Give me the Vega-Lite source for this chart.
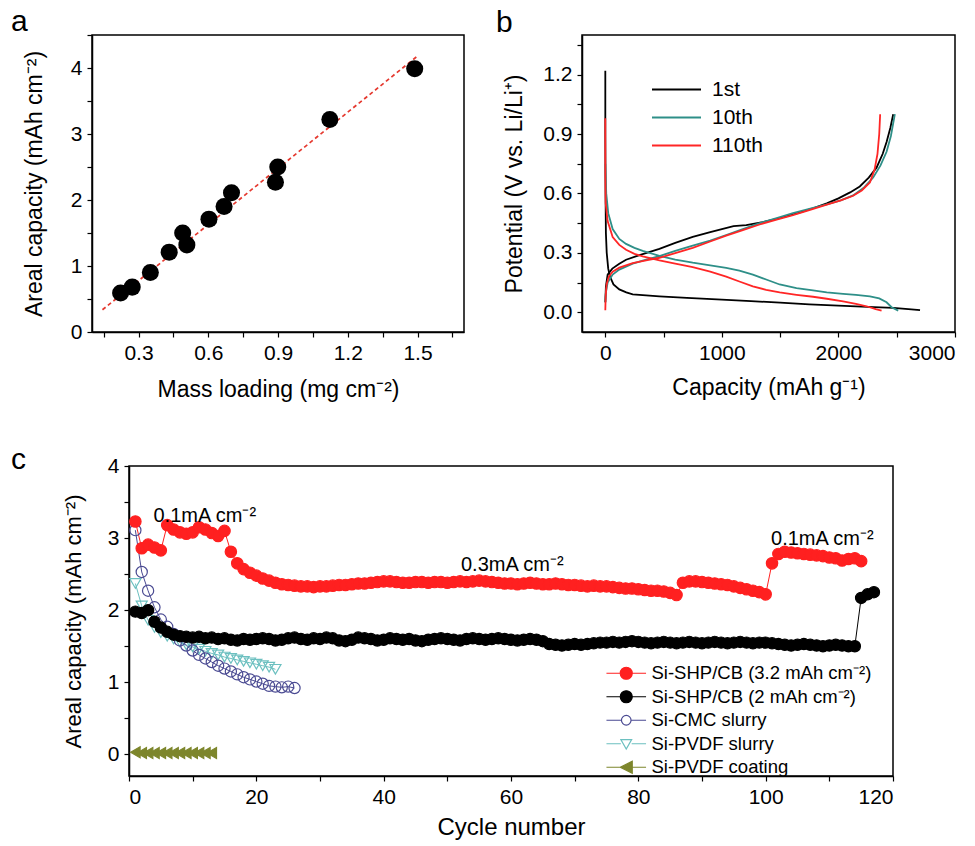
{
  "$schema": "https://vega.github.io/schema/vega-lite/v6.json",
  "background": "white",
  "padding": {"left": 10, "top": 6, "right": 0, "bottom": 0},
  "config": {
    "font": "Liberation Sans",
    "view": {"stroke": "black", "strokeWidth": 1.5},
    "axis": {"grid": false, "domainColor": "black", "domainWidth": 1.5, "tickColor": "black", "tickWidth": 1.2, "labelColor": "black", "labelFont": "Liberation Sans", "labelFontSize": 21, "titleFont": "Liberation Sans", "titleFontSize": 23, "titleFontWeight": "normal", "titleColor": "black", "labelPadding": 5},
    "title": {"fontSize": 30, "fontWeight": "normal", "anchor": "start", "frame": "group", "color": "black", "font": "Liberation Sans", "offset": -3},
    "legend": {"labelFont": "Liberation Sans", "labelColor": "black"}
  },
  "spacing": 43,
  "resolve": {"scale": {"color": "independent", "stroke": "independent", "fill": "independent", "shape": "independent", "size": "independent"}, "legend": {"color": "independent", "stroke": "independent", "fill": "independent", "shape": "independent", "size": "independent"}},
  "vconcat": [
    {
      "spacing": 30,
      "resolve": {"scale": {"color": "independent"}, "legend": {"color": "independent"}},
      "hconcat": [
        {
          "title": {"text": "a", "dx": -81},
          "width": 372,
          "height": 297,
          "layer": [
            {
              "data": {"values": [{"m": 0.145, "cap": 0.337}, {"m": 1.503, "cap": 4.19}]},
              "mark": {"type": "line", "color": "#e5392f", "strokeDash": [4, 3], "strokeWidth": 1.7},
              "encoding": {
                "x": {"field": "m", "type": "quantitative"},
                "y": {"field": "cap", "type": "quantitative"}
              }
            },
            {
              "data": {"values": [
                {"m": 0.223, "cap": 0.59}, {"m": 0.273, "cap": 0.68}, {"m": 0.351, "cap": 0.9}, {"m": 0.432, "cap": 1.21},
                {"m": 0.49, "cap": 1.5}, {"m": 0.508, "cap": 1.32}, {"m": 0.603, "cap": 1.71}, {"m": 0.668, "cap": 1.9},
                {"m": 0.7, "cap": 2.11}, {"m": 0.889, "cap": 2.27}, {"m": 0.899, "cap": 2.5}, {"m": 1.123, "cap": 3.22},
                {"m": 1.488, "cap": 3.99}
              ]},
              "mark": {"type": "circle", "size": 290, "color": "black", "opacity": 1},
              "encoding": {
                "x": {"field": "m", "type": "quantitative"},
                "y": {"field": "cap", "type": "quantitative"}
              }
            }
          ],
          "encoding": {
            "x": {"field": "m", "type": "quantitative", "scale": {"domain": [0.1, 1.7], "nice": false, "zero": false},
              "axis": {"title": "Mass loading (mg cm⁻²)", "values": [0.15, 0.3, 0.45, 0.6, 0.75, 0.9, 1.05, 1.2, 1.35, 1.5, 1.65],
                "labelExpr": "round(datum.value*100) % 30 == 0 ? format(datum.value, '.1f') : ''", "tickSize": 5, "titlePadding": 15}},
            "y": {"field": "cap", "type": "quantitative", "scale": {"domain": [0, 4.5], "nice": false},
              "axis": {"title": "Areal capacity (mAh cm⁻²)", "values": [0, 0.5, 1, 1.5, 2, 2.5, 3, 3.5, 4, 4.5],
                "labelExpr": "datum.value % 1 == 0 ? format(datum.value, 'd') : ''", "tickSize": 5, "titlePadding": 24}}
          }
        },
        {
          "title": {"text": "b", "dx": -86},
          "width": 373,
          "height": 297,
          "data": {"values": [
            {"k": "1st", "p": "d", "i": 0, "x": 0, "y": 1.22}, {"k": "1st", "p": "d", "i": 1, "x": 0, "y": 0.9}, {"k": "1st", "p": "d", "i": 2, "x": 2, "y": 0.6},
            {"k": "1st", "p": "d", "i": 3, "x": 5, "y": 0.4}, {"k": "1st", "p": "d", "i": 4, "x": 12, "y": 0.3}, {"k": "1st", "p": "d", "i": 5, "x": 25, "y": 0.22},
            {"k": "1st", "p": "d", "i": 6, "x": 40, "y": 0.18}, {"k": "1st", "p": "d", "i": 7, "x": 70, "y": 0.14}, {"k": "1st", "p": "d", "i": 8, "x": 120, "y": 0.115},
            {"k": "1st", "p": "d", "i": 9, "x": 180, "y": 0.1}, {"k": "1st", "p": "d", "i": 10, "x": 235, "y": 0.09}, {"k": "1st", "p": "d", "i": 11, "x": 350, "y": 0.085},
            {"k": "1st", "p": "d", "i": 12, "x": 464, "y": 0.08}, {"k": "1st", "p": "d", "i": 13, "x": 700, "y": 0.072}, {"k": "1st", "p": "d", "i": 14, "x": 1000, "y": 0.064},
            {"k": "1st", "p": "d", "i": 15, "x": 1250, "y": 0.056}, {"k": "1st", "p": "d", "i": 16, "x": 1500, "y": 0.048}, {"k": "1st", "p": "d", "i": 17, "x": 1750, "y": 0.04},
            {"k": "1st", "p": "d", "i": 18, "x": 2000, "y": 0.033}, {"k": "1st", "p": "d", "i": 19, "x": 2250, "y": 0.027}, {"k": "1st", "p": "d", "i": 20, "x": 2470, "y": 0.022},
            {"k": "1st", "p": "d", "i": 21, "x": 2600, "y": 0.016}, {"k": "1st", "p": "d", "i": 22, "x": 2700, "y": 0.01},
            {"k": "1st", "p": "c", "i": 0, "x": 0, "y": 0.05}, {"k": "1st", "p": "c", "i": 1, "x": 5, "y": 0.13}, {"k": "1st", "p": "c", "i": 2, "x": 20, "y": 0.19},
            {"k": "1st", "p": "c", "i": 3, "x": 60, "y": 0.22}, {"k": "1st", "p": "c", "i": 4, "x": 120, "y": 0.245}, {"k": "1st", "p": "c", "i": 5, "x": 178, "y": 0.265},
            {"k": "1st", "p": "c", "i": 6, "x": 300, "y": 0.29}, {"k": "1st", "p": "c", "i": 7, "x": 464, "y": 0.32}, {"k": "1st", "p": "c", "i": 8, "x": 600, "y": 0.35},
            {"k": "1st", "p": "c", "i": 9, "x": 750, "y": 0.38}, {"k": "1st", "p": "c", "i": 10, "x": 900, "y": 0.405}, {"k": "1st", "p": "c", "i": 11, "x": 1000, "y": 0.42},
            {"k": "1st", "p": "c", "i": 12, "x": 1100, "y": 0.435}, {"k": "1st", "p": "c", "i": 13, "x": 1209, "y": 0.44}, {"k": "1st", "p": "c", "i": 14, "x": 1350, "y": 0.455},
            {"k": "1st", "p": "c", "i": 15, "x": 1496, "y": 0.475}, {"k": "1st", "p": "c", "i": 16, "x": 1650, "y": 0.5}, {"k": "1st", "p": "c", "i": 17, "x": 1782, "y": 0.525},
            {"k": "1st", "p": "c", "i": 18, "x": 1900, "y": 0.55}, {"k": "1st", "p": "c", "i": 19, "x": 2000, "y": 0.575}, {"k": "1st", "p": "c", "i": 20, "x": 2100, "y": 0.605},
            {"k": "1st", "p": "c", "i": 21, "x": 2183, "y": 0.635}, {"k": "1st", "p": "c", "i": 22, "x": 2260, "y": 0.68}, {"k": "1st", "p": "c", "i": 23, "x": 2327, "y": 0.73},
            {"k": "1st", "p": "c", "i": 24, "x": 2380, "y": 0.8}, {"k": "1st", "p": "c", "i": 25, "x": 2413, "y": 0.86}, {"k": "1st", "p": "c", "i": 26, "x": 2445, "y": 0.93},
            {"k": "1st", "p": "c", "i": 27, "x": 2470, "y": 1.0},
            {"k": "10th", "p": "d", "i": 0, "x": 0, "y": 0.75}, {"k": "10th", "p": "d", "i": 1, "x": 8, "y": 0.6}, {"k": "10th", "p": "d", "i": 2, "x": 25, "y": 0.5},
            {"k": "10th", "p": "d", "i": 3, "x": 63, "y": 0.42}, {"k": "10th", "p": "d", "i": 4, "x": 120, "y": 0.37}, {"k": "10th", "p": "d", "i": 5, "x": 178, "y": 0.345},
            {"k": "10th", "p": "d", "i": 6, "x": 250, "y": 0.325}, {"k": "10th", "p": "d", "i": 7, "x": 321, "y": 0.31}, {"k": "10th", "p": "d", "i": 8, "x": 464, "y": 0.285},
            {"k": "10th", "p": "d", "i": 9, "x": 600, "y": 0.265}, {"k": "10th", "p": "d", "i": 10, "x": 750, "y": 0.25}, {"k": "10th", "p": "d", "i": 11, "x": 900, "y": 0.237},
            {"k": "10th", "p": "d", "i": 12, "x": 1037, "y": 0.224}, {"k": "10th", "p": "d", "i": 13, "x": 1150, "y": 0.21}, {"k": "10th", "p": "d", "i": 14, "x": 1266, "y": 0.19},
            {"k": "10th", "p": "d", "i": 15, "x": 1380, "y": 0.165}, {"k": "10th", "p": "d", "i": 16, "x": 1496, "y": 0.14}, {"k": "10th", "p": "d", "i": 17, "x": 1640, "y": 0.122},
            {"k": "10th", "p": "d", "i": 18, "x": 1782, "y": 0.11}, {"k": "10th", "p": "d", "i": 19, "x": 1900, "y": 0.1}, {"k": "10th", "p": "d", "i": 20, "x": 2040, "y": 0.093},
            {"k": "10th", "p": "d", "i": 21, "x": 2150, "y": 0.087}, {"k": "10th", "p": "d", "i": 22, "x": 2270, "y": 0.08}, {"k": "10th", "p": "d", "i": 23, "x": 2350, "y": 0.07},
            {"k": "10th", "p": "d", "i": 24, "x": 2413, "y": 0.05}, {"k": "10th", "p": "d", "i": 25, "x": 2456, "y": 0.025}, {"k": "10th", "p": "d", "i": 26, "x": 2513, "y": 0.008},
            {"k": "10th", "p": "c", "i": 0, "x": 0, "y": 0.05}, {"k": "10th", "p": "c", "i": 1, "x": 5, "y": 0.1}, {"k": "10th", "p": "c", "i": 2, "x": 20, "y": 0.15},
            {"k": "10th", "p": "c", "i": 3, "x": 63, "y": 0.19}, {"k": "10th", "p": "c", "i": 4, "x": 120, "y": 0.215}, {"k": "10th", "p": "c", "i": 5, "x": 235, "y": 0.245},
            {"k": "10th", "p": "c", "i": 6, "x": 350, "y": 0.265}, {"k": "10th", "p": "c", "i": 7, "x": 464, "y": 0.283}, {"k": "10th", "p": "c", "i": 8, "x": 600, "y": 0.31},
            {"k": "10th", "p": "c", "i": 9, "x": 750, "y": 0.336}, {"k": "10th", "p": "c", "i": 10, "x": 900, "y": 0.362}, {"k": "10th", "p": "c", "i": 11, "x": 1037, "y": 0.39},
            {"k": "10th", "p": "c", "i": 12, "x": 1180, "y": 0.42}, {"k": "10th", "p": "c", "i": 13, "x": 1324, "y": 0.45}, {"k": "10th", "p": "c", "i": 14, "x": 1470, "y": 0.475},
            {"k": "10th", "p": "c", "i": 15, "x": 1610, "y": 0.5}, {"k": "10th", "p": "c", "i": 16, "x": 1750, "y": 0.522}, {"k": "10th", "p": "c", "i": 17, "x": 1900, "y": 0.545},
            {"k": "10th", "p": "c", "i": 18, "x": 2020, "y": 0.565}, {"k": "10th", "p": "c", "i": 19, "x": 2126, "y": 0.59}, {"k": "10th", "p": "c", "i": 20, "x": 2220, "y": 0.63},
            {"k": "10th", "p": "c", "i": 21, "x": 2298, "y": 0.68}, {"k": "10th", "p": "c", "i": 22, "x": 2360, "y": 0.74}, {"k": "10th", "p": "c", "i": 23, "x": 2413, "y": 0.81},
            {"k": "10th", "p": "c", "i": 24, "x": 2450, "y": 0.89}, {"k": "10th", "p": "c", "i": 25, "x": 2484, "y": 1.0},
            {"k": "110th", "p": "d", "i": 0, "x": 0, "y": 0.98}, {"k": "110th", "p": "d", "i": 1, "x": 0, "y": 0.7}, {"k": "110th", "p": "d", "i": 2, "x": 3, "y": 0.55},
            {"k": "110th", "p": "d", "i": 3, "x": 20, "y": 0.46}, {"k": "110th", "p": "d", "i": 4, "x": 63, "y": 0.38}, {"k": "110th", "p": "d", "i": 5, "x": 120, "y": 0.34},
            {"k": "110th", "p": "d", "i": 6, "x": 178, "y": 0.315}, {"k": "110th", "p": "d", "i": 7, "x": 250, "y": 0.295}, {"k": "110th", "p": "d", "i": 8, "x": 321, "y": 0.282},
            {"k": "110th", "p": "d", "i": 9, "x": 464, "y": 0.262}, {"k": "110th", "p": "d", "i": 10, "x": 600, "y": 0.245}, {"k": "110th", "p": "d", "i": 11, "x": 750, "y": 0.228},
            {"k": "110th", "p": "d", "i": 12, "x": 900, "y": 0.205}, {"k": "110th", "p": "d", "i": 13, "x": 1037, "y": 0.18}, {"k": "110th", "p": "d", "i": 14, "x": 1150, "y": 0.155},
            {"k": "110th", "p": "d", "i": 15, "x": 1266, "y": 0.13}, {"k": "110th", "p": "d", "i": 16, "x": 1380, "y": 0.113}, {"k": "110th", "p": "d", "i": 17, "x": 1496, "y": 0.1},
            {"k": "110th", "p": "d", "i": 18, "x": 1640, "y": 0.088}, {"k": "110th", "p": "d", "i": 19, "x": 1782, "y": 0.078}, {"k": "110th", "p": "d", "i": 20, "x": 1900, "y": 0.068},
            {"k": "110th", "p": "d", "i": 21, "x": 2040, "y": 0.055}, {"k": "110th", "p": "d", "i": 22, "x": 2150, "y": 0.042}, {"k": "110th", "p": "d", "i": 23, "x": 2241, "y": 0.03},
            {"k": "110th", "p": "d", "i": 24, "x": 2320, "y": 0.015}, {"k": "110th", "p": "d", "i": 25, "x": 2370, "y": 0.008},
            {"k": "110th", "p": "c", "i": 0, "x": 0, "y": 0.01}, {"k": "110th", "p": "c", "i": 1, "x": 3, "y": 0.08}, {"k": "110th", "p": "c", "i": 2, "x": 11, "y": 0.14},
            {"k": "110th", "p": "c", "i": 3, "x": 30, "y": 0.18}, {"k": "110th", "p": "c", "i": 4, "x": 63, "y": 0.205}, {"k": "110th", "p": "c", "i": 5, "x": 120, "y": 0.225},
            {"k": "110th", "p": "c", "i": 6, "x": 235, "y": 0.248}, {"k": "110th", "p": "c", "i": 7, "x": 350, "y": 0.262}, {"k": "110th", "p": "c", "i": 8, "x": 464, "y": 0.275},
            {"k": "110th", "p": "c", "i": 9, "x": 600, "y": 0.298}, {"k": "110th", "p": "c", "i": 10, "x": 750, "y": 0.325}, {"k": "110th", "p": "c", "i": 11, "x": 900, "y": 0.357},
            {"k": "110th", "p": "c", "i": 12, "x": 1037, "y": 0.387}, {"k": "110th", "p": "c", "i": 13, "x": 1180, "y": 0.415}, {"k": "110th", "p": "c", "i": 14, "x": 1324, "y": 0.443},
            {"k": "110th", "p": "c", "i": 15, "x": 1470, "y": 0.468}, {"k": "110th", "p": "c", "i": 16, "x": 1610, "y": 0.49}, {"k": "110th", "p": "c", "i": 17, "x": 1750, "y": 0.515},
            {"k": "110th", "p": "c", "i": 18, "x": 1900, "y": 0.543}, {"k": "110th", "p": "c", "i": 19, "x": 2020, "y": 0.565}, {"k": "110th", "p": "c", "i": 20, "x": 2126, "y": 0.588},
            {"k": "110th", "p": "c", "i": 21, "x": 2200, "y": 0.615}, {"k": "110th", "p": "c", "i": 22, "x": 2270, "y": 0.655}, {"k": "110th", "p": "c", "i": 23, "x": 2310, "y": 0.72},
            {"k": "110th", "p": "c", "i": 24, "x": 2335, "y": 0.8}, {"k": "110th", "p": "c", "i": 25, "x": 2350, "y": 0.9}, {"k": "110th", "p": "c", "i": 26, "x": 2358, "y": 1.0}
          ]},
          "mark": {"type": "line", "strokeWidth": 1.8},
          "encoding": {
            "x": {"field": "x", "type": "quantitative", "scale": {"domain": [-200, 3000], "nice": false, "zero": false},
              "axis": {"title": "Capacity (mAh g⁻¹)", "values": [0, 500, 1000, 1500, 2000, 2500, 3000],
                "labelExpr": "datum.value % 1000 == 0 ? format(datum.value, 'd') : ''", "tickSize": 5, "titlePadding": 13}},
            "y": {"field": "y", "type": "quantitative", "scale": {"domain": [-0.1, 1.4], "nice": false, "zero": false},
              "axis": {"title": "Potential (V vs. Li/Li⁺)", "values": [0, 0.15, 0.3, 0.45, 0.6, 0.75, 0.9, 1.05, 1.2, 1.35],
                "labelExpr": "round(datum.value*100) % 30 == 0 ? format(datum.value, '.1f') : ''", "tickSize": 5, "titlePadding": 16}},
            "color": {"field": "k", "type": "nominal", "scale": {"domain": ["1st", "10th", "110th"], "range": ["#000000", "#2e8f88", "#ff2626"]},
              "legend": {"title": null, "orient": "none", "legendX": 84, "legendY": 44, "symbolType": "M-4.9,0H4.9", "symbolSize": 100, "symbolStrokeWidth": 2,
                "labelFontSize": 21, "labelOffset": 25, "rowPadding": 6, "padding": 0}},
            "detail": {"field": "p"},
            "order": {"field": "i", "type": "quantitative"}
          }
        }
      ]
    },
    {
      "spacing": 36,
      "bounds": "flush",
      "resolve": {"scale": {"stroke": "independent", "fill": "independent", "shape": "independent", "size": "independent"}, "legend": {"stroke": "independent", "fill": "independent", "shape": "independent", "size": "independent"}},
      "hconcat": [
        {
          "title": {"text": "c", "dx": -81, "dy": 6},
          "width": 1,
          "height": 310,
          "view": {"stroke": null},
          "data": {"values": [{"k": 0}]},
          "mark": {"type": "point", "opacity": 0},
          "encoding": {}
        },
        {
          "width": 764,
          "height": 310,
          "resolve": {"scale": {"stroke": "independent", "fill": "independent", "shape": "independent", "size": "independent"}, "legend": {"stroke": "independent", "fill": "independent", "shape": "independent", "size": "independent"}},
          "layer": [
            {
              "data": {"name": "cyc"},
              "mark": {"type": "line", "strokeWidth": 1},
              "encoding": {
                "x": {"field": "c", "type": "quantitative"},
                "y": {"field": "v", "type": "quantitative"},
                "stroke": {"field": "s", "type": "nominal", "legend": null,
                  "scale": {"domain": ["Si-SHP/CB (3.2 mAh cm⁻²)", "Si-SHP/CB (2 mAh cm⁻²)", "Si-CMC slurry", "Si-PVDF slurry", "Si-PVDF coating"],
                    "range": ["#ff2020", "#000000", "#4a4a92", "#6cc0c0", "#7d862c"]}},
                "order": {"field": "c", "type": "quantitative"}
              }
            },
            {
              "data": {"name": "cyc"},
              "mark": {"type": "point", "strokeWidth": 1.2, "opacity": 1},
              "encoding": {
                "x": {"field": "c", "type": "quantitative"},
                "y": {"field": "v", "type": "quantitative"},
                "stroke": {"field": "s", "type": "nominal", "legend": null,
                  "scale": {"domain": ["Si-SHP/CB (3.2 mAh cm⁻²)", "Si-SHP/CB (2 mAh cm⁻²)", "Si-CMC slurry", "Si-PVDF slurry", "Si-PVDF coating"],
                    "range": ["#ff2020", "#000000", "#4a4a92", "#6cc0c0", "#7d862c"]}},
                "fill": {"field": "s", "type": "nominal", "legend": null,
                  "scale": {"domain": ["Si-SHP/CB (3.2 mAh cm⁻²)", "Si-SHP/CB (2 mAh cm⁻²)", "Si-CMC slurry", "Si-PVDF slurry", "Si-PVDF coating"],
                    "range": ["#ff2020", "#000000", "transparent", "transparent", "#7d862c"]}},
                "shape": {"field": "s", "type": "nominal", "legend": null,
                  "scale": {"domain": ["Si-SHP/CB (3.2 mAh cm⁻²)", "Si-SHP/CB (2 mAh cm⁻²)", "Si-CMC slurry", "Si-PVDF slurry", "Si-PVDF coating"],
                    "range": ["circle", "circle", "circle", "triangle-down", "triangle-left"]}},
                "size": {"field": "s", "type": "nominal", "legend": null,
                  "scale": {"domain": ["Si-SHP/CB (3.2 mAh cm⁻²)", "Si-SHP/CB (2 mAh cm⁻²)", "Si-CMC slurry", "Si-PVDF slurry", "Si-PVDF coating"],
                    "range": [130, 120, 80, 90, 80]}}
              }
            },
            {
              "data": {"name": "cyc"},
              "transform": [{"filter": "datum.c == 1"}],
              "mark": {"type": "point", "opacity": 0, "strokeWidth": 1.2},
              "encoding": {
                "x": {"field": "c", "type": "quantitative"},
                "y": {"field": "v", "type": "quantitative"},
                "stroke": {"field": "s", "type": "nominal",
                  "scale": {"domain": ["Si-SHP/CB (3.2 mAh cm⁻²)", "Si-SHP/CB (2 mAh cm⁻²)", "Si-CMC slurry", "Si-PVDF slurry", "Si-PVDF coating"],
                    "range": ["#ff2020", "#000000", "#4a4a92", "#6cc0c0", "#7d862c"]},
                  "legend": {"title": null, "orient": "none", "legendX": 488, "legendY": 198, "symbolSize": 144, "symbolStrokeWidth": 1.2,
                    "labelFontSize": 18.5, "labelOffset": 16, "rowPadding": 4.5, "padding": 0, "symbolOpacity": 1, "labelLimit": 0}},
                "fill": {"field": "s", "type": "nominal",
                  "scale": {"domain": ["Si-SHP/CB (3.2 mAh cm⁻²)", "Si-SHP/CB (2 mAh cm⁻²)", "Si-CMC slurry", "Si-PVDF slurry", "Si-PVDF coating"],
                    "range": ["#ff2020", "#000000", "transparent", "transparent", "#7d862c"]},
                  "legend": {"title": null, "orient": "none", "legendX": 488, "legendY": 198, "symbolSize": 144, "symbolStrokeWidth": 1.2,
                    "labelFontSize": 18.5, "labelOffset": 16, "rowPadding": 4.5, "padding": 0, "symbolOpacity": 1, "labelLimit": 0}},
                "shape": {"field": "s", "type": "nominal",
                  "scale": {"domain": ["Si-SHP/CB (3.2 mAh cm⁻²)", "Si-SHP/CB (2 mAh cm⁻²)", "Si-CMC slurry", "Si-PVDF slurry", "Si-PVDF coating"],
                    "range": ["M-3.3,0H-1M1,0H3.3M-1,0A1,1,0,1,1,1,0A1,1,0,1,1,-1,0Z", "M-3.3,0H-1M1,0H3.3M-1,0A1,1,0,1,1,1,0A1,1,0,1,1,-1,0Z", "M-3.3,0H-0.8M0.8,0H3.3M-0.8,0A0.8,0.8,0,1,1,0.8,0A0.8,0.8,0,1,1,-0.8,0Z", "M-3.3,0H-0.9M0.9,0H3.3M-0.9,-0.7L0.9,-0.7L0,0.9Z", "M-3.3,0H-1M1,0H3.3M-1,0L1,-1L1,1Z"]},
                  "legend": {"title": null, "orient": "none", "legendX": 488, "legendY": 198, "symbolSize": 144, "symbolStrokeWidth": 1.2,
                    "labelFontSize": 18.5, "labelOffset": 16, "rowPadding": 4.5, "padding": 0, "symbolOpacity": 1, "labelLimit": 0}}
              }
            },
            {
              "data": {"values": [
                {"c": 11.9, "v": 3.31, "t": "0.1mA cm⁻²"},
                {"c": 60.2, "v": 2.62, "t": "0.3mA cm⁻²"},
                {"c": 108.9, "v": 2.99, "t": "0.1mA cm⁻²"}
              ]},
              "mark": {"type": "text", "fontSize": 20, "font": "Liberation Sans", "color": "black", "align": "center", "baseline": "middle"},
              "encoding": {
                "x": {"field": "c", "type": "quantitative"},
                "y": {"field": "v", "type": "quantitative"},
                "text": {"field": "t"}
              }
            }
          ],
          "encoding": {
            "x": {"field": "c", "type": "quantitative", "scale": {"domain": [0, 120], "nice": false},
              "axis": {"title": "Cycle number", "values": [0, 10, 20, 30, 40, 50, 60, 70, 80, 90, 100, 110, 120],
                "labelExpr": "datum.value % 20 == 0 ? format(datum.value, 'd') : ''", "tickSize": 5, "titlePadding": 8, "titleFontSize": 24}},
            "y": {"field": "v", "type": "quantitative", "scale": {"domain": [-0.3, 4], "nice": false, "zero": false},
              "axis": {"title": "Areal capacity (mAh cm⁻²)", "values": [0, 0.5, 1, 1.5, 2, 2.5, 3, 3.5, 4],
                "labelExpr": "datum.value % 1 == 0 ? format(datum.value, 'd') : ''", "tickSize": 5, "titlePadding": 22, "titleFontSize": 22}}
          }
        }
      ]
    }
  ],
  "datasets": {
    "cyc": [
      {"s": "Si-PVDF coating", "c": 1, "v": 0.03}, {"s": "Si-PVDF coating", "c": 2, "v": 0.02}, {"s": "Si-PVDF coating", "c": 3, "v": 0.02},
      {"s": "Si-PVDF coating", "c": 4, "v": 0.02}, {"s": "Si-PVDF coating", "c": 5, "v": 0.02}, {"s": "Si-PVDF coating", "c": 6, "v": 0.02},
      {"s": "Si-PVDF coating", "c": 7, "v": 0.02}, {"s": "Si-PVDF coating", "c": 8, "v": 0.02}, {"s": "Si-PVDF coating", "c": 9, "v": 0.02},
      {"s": "Si-PVDF coating", "c": 10, "v": 0.02}, {"s": "Si-PVDF coating", "c": 11, "v": 0.02}, {"s": "Si-PVDF coating", "c": 12, "v": 0.02},
      {"s": "Si-PVDF coating", "c": 13, "v": 0.02},
      {"s": "Si-PVDF slurry", "c": 1, "v": 2.37}, {"s": "Si-PVDF slurry", "c": 2, "v": 2.06}, {"s": "Si-PVDF slurry", "c": 3, "v": 1.86},
      {"s": "Si-PVDF slurry", "c": 4, "v": 1.76}, {"s": "Si-PVDF slurry", "c": 5, "v": 1.69}, {"s": "Si-PVDF slurry", "c": 6, "v": 1.64},
      {"s": "Si-PVDF slurry", "c": 7, "v": 1.6}, {"s": "Si-PVDF slurry", "c": 8, "v": 1.56}, {"s": "Si-PVDF slurry", "c": 9, "v": 1.52},
      {"s": "Si-PVDF slurry", "c": 10, "v": 1.49}, {"s": "Si-PVDF slurry", "c": 11, "v": 1.46}, {"s": "Si-PVDF slurry", "c": 12, "v": 1.43},
      {"s": "Si-PVDF slurry", "c": 13, "v": 1.4}, {"s": "Si-PVDF slurry", "c": 14, "v": 1.38}, {"s": "Si-PVDF slurry", "c": 15, "v": 1.35},
      {"s": "Si-PVDF slurry", "c": 16, "v": 1.33}, {"s": "Si-PVDF slurry", "c": 17, "v": 1.31}, {"s": "Si-PVDF slurry", "c": 18, "v": 1.29},
      {"s": "Si-PVDF slurry", "c": 19, "v": 1.27}, {"s": "Si-PVDF slurry", "c": 20, "v": 1.25}, {"s": "Si-PVDF slurry", "c": 21, "v": 1.23},
      {"s": "Si-PVDF slurry", "c": 22, "v": 1.21}, {"s": "Si-PVDF slurry", "c": 23, "v": 1.18},
      {"s": "Si-CMC slurry", "c": 1, "v": 3.11}, {"s": "Si-CMC slurry", "c": 2, "v": 2.53}, {"s": "Si-CMC slurry", "c": 3, "v": 2.27},
      {"s": "Si-CMC slurry", "c": 4, "v": 2.04}, {"s": "Si-CMC slurry", "c": 5, "v": 1.87}, {"s": "Si-CMC slurry", "c": 6, "v": 1.77},
      {"s": "Si-CMC slurry", "c": 7, "v": 1.67}, {"s": "Si-CMC slurry", "c": 8, "v": 1.58}, {"s": "Si-CMC slurry", "c": 9, "v": 1.51},
      {"s": "Si-CMC slurry", "c": 10, "v": 1.44}, {"s": "Si-CMC slurry", "c": 11, "v": 1.38}, {"s": "Si-CMC slurry", "c": 12, "v": 1.33},
      {"s": "Si-CMC slurry", "c": 13, "v": 1.28}, {"s": "Si-CMC slurry", "c": 14, "v": 1.23}, {"s": "Si-CMC slurry", "c": 15, "v": 1.19},
      {"s": "Si-CMC slurry", "c": 16, "v": 1.15}, {"s": "Si-CMC slurry", "c": 17, "v": 1.11}, {"s": "Si-CMC slurry", "c": 18, "v": 1.07},
      {"s": "Si-CMC slurry", "c": 19, "v": 1.04}, {"s": "Si-CMC slurry", "c": 20, "v": 1.01}, {"s": "Si-CMC slurry", "c": 21, "v": 0.98},
      {"s": "Si-CMC slurry", "c": 22, "v": 0.95}, {"s": "Si-CMC slurry", "c": 23, "v": 0.94}, {"s": "Si-CMC slurry", "c": 24, "v": 0.93},
      {"s": "Si-CMC slurry", "c": 25, "v": 0.94}, {"s": "Si-CMC slurry", "c": 26, "v": 0.92},
      {"s": "Si-SHP/CB (2 mAh cm⁻²)", "c": 1, "v": 1.98}, {"s": "Si-SHP/CB (2 mAh cm⁻²)", "c": 2, "v": 1.96}, {"s": "Si-SHP/CB (2 mAh cm⁻²)", "c": 3, "v": 2.0},
      {"s": "Si-SHP/CB (2 mAh cm⁻²)", "c": 4, "v": 1.84}, {"s": "Si-SHP/CB (2 mAh cm⁻²)", "c": 5, "v": 1.76}, {"s": "Si-SHP/CB (2 mAh cm⁻²)", "c": 6, "v": 1.7},
      {"s": "Si-SHP/CB (2 mAh cm⁻²)", "c": 7, "v": 1.66}, {"s": "Si-SHP/CB (2 mAh cm⁻²)", "c": 8, "v": 1.64}, {"s": "Si-SHP/CB (2 mAh cm⁻²)", "c": 9, "v": 1.63},
      {"s": "Si-SHP/CB (2 mAh cm⁻²)", "c": 10, "v": 1.62}, {"s": "Si-SHP/CB (2 mAh cm⁻²)", "c": 11, "v": 1.63}, {"s": "Si-SHP/CB (2 mAh cm⁻²)", "c": 12, "v": 1.61},
      {"s": "Si-SHP/CB (2 mAh cm⁻²)", "c": 13, "v": 1.62}, {"s": "Si-SHP/CB (2 mAh cm⁻²)", "c": 14, "v": 1.6}, {"s": "Si-SHP/CB (2 mAh cm⁻²)", "c": 15, "v": 1.61},
      {"s": "Si-SHP/CB (2 mAh cm⁻²)", "c": 16, "v": 1.59}, {"s": "Si-SHP/CB (2 mAh cm⁻²)", "c": 17, "v": 1.58}, {"s": "Si-SHP/CB (2 mAh cm⁻²)", "c": 18, "v": 1.6},
      {"s": "Si-SHP/CB (2 mAh cm⁻²)", "c": 19, "v": 1.59}, {"s": "Si-SHP/CB (2 mAh cm⁻²)", "c": 20, "v": 1.6}, {"s": "Si-SHP/CB (2 mAh cm⁻²)", "c": 21, "v": 1.61},
      {"s": "Si-SHP/CB (2 mAh cm⁻²)", "c": 22, "v": 1.6}, {"s": "Si-SHP/CB (2 mAh cm⁻²)", "c": 23, "v": 1.58}, {"s": "Si-SHP/CB (2 mAh cm⁻²)", "c": 24, "v": 1.59},
      {"s": "Si-SHP/CB (2 mAh cm⁻²)", "c": 25, "v": 1.61}, {"s": "Si-SHP/CB (2 mAh cm⁻²)", "c": 26, "v": 1.62}, {"s": "Si-SHP/CB (2 mAh cm⁻²)", "c": 27, "v": 1.6},
      {"s": "Si-SHP/CB (2 mAh cm⁻²)", "c": 28, "v": 1.59}, {"s": "Si-SHP/CB (2 mAh cm⁻²)", "c": 29, "v": 1.61}, {"s": "Si-SHP/CB (2 mAh cm⁻²)", "c": 30, "v": 1.6},
      {"s": "Si-SHP/CB (2 mAh cm⁻²)", "c": 31, "v": 1.62}, {"s": "Si-SHP/CB (2 mAh cm⁻²)", "c": 32, "v": 1.61}, {"s": "Si-SHP/CB (2 mAh cm⁻²)", "c": 33, "v": 1.58},
      {"s": "Si-SHP/CB (2 mAh cm⁻²)", "c": 34, "v": 1.57}, {"s": "Si-SHP/CB (2 mAh cm⁻²)", "c": 35, "v": 1.59}, {"s": "Si-SHP/CB (2 mAh cm⁻²)", "c": 36, "v": 1.62},
      {"s": "Si-SHP/CB (2 mAh cm⁻²)", "c": 37, "v": 1.61}, {"s": "Si-SHP/CB (2 mAh cm⁻²)", "c": 38, "v": 1.6}, {"s": "Si-SHP/CB (2 mAh cm⁻²)", "c": 39, "v": 1.58},
      {"s": "Si-SHP/CB (2 mAh cm⁻²)", "c": 40, "v": 1.59}, {"s": "Si-SHP/CB (2 mAh cm⁻²)", "c": 41, "v": 1.61}, {"s": "Si-SHP/CB (2 mAh cm⁻²)", "c": 42, "v": 1.6},
      {"s": "Si-SHP/CB (2 mAh cm⁻²)", "c": 43, "v": 1.59}, {"s": "Si-SHP/CB (2 mAh cm⁻²)", "c": 44, "v": 1.6}, {"s": "Si-SHP/CB (2 mAh cm⁻²)", "c": 45, "v": 1.58},
      {"s": "Si-SHP/CB (2 mAh cm⁻²)", "c": 46, "v": 1.57}, {"s": "Si-SHP/CB (2 mAh cm⁻²)", "c": 47, "v": 1.59}, {"s": "Si-SHP/CB (2 mAh cm⁻²)", "c": 48, "v": 1.6},
      {"s": "Si-SHP/CB (2 mAh cm⁻²)", "c": 49, "v": 1.61}, {"s": "Si-SHP/CB (2 mAh cm⁻²)", "c": 50, "v": 1.6}, {"s": "Si-SHP/CB (2 mAh cm⁻²)", "c": 51, "v": 1.59},
      {"s": "Si-SHP/CB (2 mAh cm⁻²)", "c": 52, "v": 1.58}, {"s": "Si-SHP/CB (2 mAh cm⁻²)", "c": 53, "v": 1.6}, {"s": "Si-SHP/CB (2 mAh cm⁻²)", "c": 54, "v": 1.61},
      {"s": "Si-SHP/CB (2 mAh cm⁻²)", "c": 55, "v": 1.6}, {"s": "Si-SHP/CB (2 mAh cm⁻²)", "c": 56, "v": 1.59}, {"s": "Si-SHP/CB (2 mAh cm⁻²)", "c": 57, "v": 1.6},
      {"s": "Si-SHP/CB (2 mAh cm⁻²)", "c": 58, "v": 1.61}, {"s": "Si-SHP/CB (2 mAh cm⁻²)", "c": 59, "v": 1.6}, {"s": "Si-SHP/CB (2 mAh cm⁻²)", "c": 60, "v": 1.59},
      {"s": "Si-SHP/CB (2 mAh cm⁻²)", "c": 61, "v": 1.58}, {"s": "Si-SHP/CB (2 mAh cm⁻²)", "c": 62, "v": 1.59}, {"s": "Si-SHP/CB (2 mAh cm⁻²)", "c": 63, "v": 1.6},
      {"s": "Si-SHP/CB (2 mAh cm⁻²)", "c": 64, "v": 1.59}, {"s": "Si-SHP/CB (2 mAh cm⁻²)", "c": 65, "v": 1.57}, {"s": "Si-SHP/CB (2 mAh cm⁻²)", "c": 66, "v": 1.53},
      {"s": "Si-SHP/CB (2 mAh cm⁻²)", "c": 67, "v": 1.52}, {"s": "Si-SHP/CB (2 mAh cm⁻²)", "c": 68, "v": 1.51}, {"s": "Si-SHP/CB (2 mAh cm⁻²)", "c": 69, "v": 1.52},
      {"s": "Si-SHP/CB (2 mAh cm⁻²)", "c": 70, "v": 1.53}, {"s": "Si-SHP/CB (2 mAh cm⁻²)", "c": 71, "v": 1.52}, {"s": "Si-SHP/CB (2 mAh cm⁻²)", "c": 72, "v": 1.53},
      {"s": "Si-SHP/CB (2 mAh cm⁻²)", "c": 73, "v": 1.54}, {"s": "Si-SHP/CB (2 mAh cm⁻²)", "c": 74, "v": 1.55}, {"s": "Si-SHP/CB (2 mAh cm⁻²)", "c": 75, "v": 1.55},
      {"s": "Si-SHP/CB (2 mAh cm⁻²)", "c": 76, "v": 1.56}, {"s": "Si-SHP/CB (2 mAh cm⁻²)", "c": 77, "v": 1.55}, {"s": "Si-SHP/CB (2 mAh cm⁻²)", "c": 78, "v": 1.56},
      {"s": "Si-SHP/CB (2 mAh cm⁻²)", "c": 79, "v": 1.57}, {"s": "Si-SHP/CB (2 mAh cm⁻²)", "c": 80, "v": 1.56}, {"s": "Si-SHP/CB (2 mAh cm⁻²)", "c": 81, "v": 1.55},
      {"s": "Si-SHP/CB (2 mAh cm⁻²)", "c": 82, "v": 1.54}, {"s": "Si-SHP/CB (2 mAh cm⁻²)", "c": 83, "v": 1.55}, {"s": "Si-SHP/CB (2 mAh cm⁻²)", "c": 84, "v": 1.56},
      {"s": "Si-SHP/CB (2 mAh cm⁻²)", "c": 85, "v": 1.55}, {"s": "Si-SHP/CB (2 mAh cm⁻²)", "c": 86, "v": 1.54}, {"s": "Si-SHP/CB (2 mAh cm⁻²)", "c": 87, "v": 1.55},
      {"s": "Si-SHP/CB (2 mAh cm⁻²)", "c": 88, "v": 1.56}, {"s": "Si-SHP/CB (2 mAh cm⁻²)", "c": 89, "v": 1.55}, {"s": "Si-SHP/CB (2 mAh cm⁻²)", "c": 90, "v": 1.54},
      {"s": "Si-SHP/CB (2 mAh cm⁻²)", "c": 91, "v": 1.55}, {"s": "Si-SHP/CB (2 mAh cm⁻²)", "c": 92, "v": 1.56}, {"s": "Si-SHP/CB (2 mAh cm⁻²)", "c": 93, "v": 1.55},
      {"s": "Si-SHP/CB (2 mAh cm⁻²)", "c": 94, "v": 1.54}, {"s": "Si-SHP/CB (2 mAh cm⁻²)", "c": 95, "v": 1.55}, {"s": "Si-SHP/CB (2 mAh cm⁻²)", "c": 96, "v": 1.56},
      {"s": "Si-SHP/CB (2 mAh cm⁻²)", "c": 97, "v": 1.55}, {"s": "Si-SHP/CB (2 mAh cm⁻²)", "c": 98, "v": 1.54}, {"s": "Si-SHP/CB (2 mAh cm⁻²)", "c": 99, "v": 1.55},
      {"s": "Si-SHP/CB (2 mAh cm⁻²)", "c": 100, "v": 1.55}, {"s": "Si-SHP/CB (2 mAh cm⁻²)", "c": 101, "v": 1.54}, {"s": "Si-SHP/CB (2 mAh cm⁻²)", "c": 102, "v": 1.53},
      {"s": "Si-SHP/CB (2 mAh cm⁻²)", "c": 103, "v": 1.52}, {"s": "Si-SHP/CB (2 mAh cm⁻²)", "c": 104, "v": 1.51}, {"s": "Si-SHP/CB (2 mAh cm⁻²)", "c": 105, "v": 1.52},
      {"s": "Si-SHP/CB (2 mAh cm⁻²)", "c": 106, "v": 1.53}, {"s": "Si-SHP/CB (2 mAh cm⁻²)", "c": 107, "v": 1.52}, {"s": "Si-SHP/CB (2 mAh cm⁻²)", "c": 108, "v": 1.51},
      {"s": "Si-SHP/CB (2 mAh cm⁻²)", "c": 109, "v": 1.5}, {"s": "Si-SHP/CB (2 mAh cm⁻²)", "c": 110, "v": 1.51}, {"s": "Si-SHP/CB (2 mAh cm⁻²)", "c": 111, "v": 1.52},
      {"s": "Si-SHP/CB (2 mAh cm⁻²)", "c": 112, "v": 1.51}, {"s": "Si-SHP/CB (2 mAh cm⁻²)", "c": 113, "v": 1.5}, {"s": "Si-SHP/CB (2 mAh cm⁻²)", "c": 114, "v": 1.5},
      {"s": "Si-SHP/CB (2 mAh cm⁻²)", "c": 115, "v": 2.17}, {"s": "Si-SHP/CB (2 mAh cm⁻²)", "c": 116, "v": 2.22}, {"s": "Si-SHP/CB (2 mAh cm⁻²)", "c": 117, "v": 2.25},
      {"s": "Si-SHP/CB (3.2 mAh cm⁻²)", "c": 1, "v": 3.23}, {"s": "Si-SHP/CB (3.2 mAh cm⁻²)", "c": 2, "v": 2.86}, {"s": "Si-SHP/CB (3.2 mAh cm⁻²)", "c": 3, "v": 2.91},
      {"s": "Si-SHP/CB (3.2 mAh cm⁻²)", "c": 4, "v": 2.87}, {"s": "Si-SHP/CB (3.2 mAh cm⁻²)", "c": 5, "v": 2.83}, {"s": "Si-SHP/CB (3.2 mAh cm⁻²)", "c": 6, "v": 3.18},
      {"s": "Si-SHP/CB (3.2 mAh cm⁻²)", "c": 7, "v": 3.12}, {"s": "Si-SHP/CB (3.2 mAh cm⁻²)", "c": 8, "v": 3.08}, {"s": "Si-SHP/CB (3.2 mAh cm⁻²)", "c": 9, "v": 3.06},
      {"s": "Si-SHP/CB (3.2 mAh cm⁻²)", "c": 10, "v": 3.08}, {"s": "Si-SHP/CB (3.2 mAh cm⁻²)", "c": 11, "v": 3.15}, {"s": "Si-SHP/CB (3.2 mAh cm⁻²)", "c": 12, "v": 3.12},
      {"s": "Si-SHP/CB (3.2 mAh cm⁻²)", "c": 13, "v": 3.07}, {"s": "Si-SHP/CB (3.2 mAh cm⁻²)", "c": 14, "v": 3.03}, {"s": "Si-SHP/CB (3.2 mAh cm⁻²)", "c": 15, "v": 3.1},
      {"s": "Si-SHP/CB (3.2 mAh cm⁻²)", "c": 16, "v": 2.81}, {"s": "Si-SHP/CB (3.2 mAh cm⁻²)", "c": 17, "v": 2.65}, {"s": "Si-SHP/CB (3.2 mAh cm⁻²)", "c": 18, "v": 2.57},
      {"s": "Si-SHP/CB (3.2 mAh cm⁻²)", "c": 19, "v": 2.52}, {"s": "Si-SHP/CB (3.2 mAh cm⁻²)", "c": 20, "v": 2.48}, {"s": "Si-SHP/CB (3.2 mAh cm⁻²)", "c": 21, "v": 2.44},
      {"s": "Si-SHP/CB (3.2 mAh cm⁻²)", "c": 22, "v": 2.41}, {"s": "Si-SHP/CB (3.2 mAh cm⁻²)", "c": 23, "v": 2.38}, {"s": "Si-SHP/CB (3.2 mAh cm⁻²)", "c": 24, "v": 2.36},
      {"s": "Si-SHP/CB (3.2 mAh cm⁻²)", "c": 25, "v": 2.35}, {"s": "Si-SHP/CB (3.2 mAh cm⁻²)", "c": 26, "v": 2.34}, {"s": "Si-SHP/CB (3.2 mAh cm⁻²)", "c": 27, "v": 2.33},
      {"s": "Si-SHP/CB (3.2 mAh cm⁻²)", "c": 28, "v": 2.33}, {"s": "Si-SHP/CB (3.2 mAh cm⁻²)", "c": 29, "v": 2.32}, {"s": "Si-SHP/CB (3.2 mAh cm⁻²)", "c": 30, "v": 2.33},
      {"s": "Si-SHP/CB (3.2 mAh cm⁻²)", "c": 31, "v": 2.33}, {"s": "Si-SHP/CB (3.2 mAh cm⁻²)", "c": 32, "v": 2.34}, {"s": "Si-SHP/CB (3.2 mAh cm⁻²)", "c": 33, "v": 2.35},
      {"s": "Si-SHP/CB (3.2 mAh cm⁻²)", "c": 34, "v": 2.35}, {"s": "Si-SHP/CB (3.2 mAh cm⁻²)", "c": 35, "v": 2.36}, {"s": "Si-SHP/CB (3.2 mAh cm⁻²)", "c": 36, "v": 2.37},
      {"s": "Si-SHP/CB (3.2 mAh cm⁻²)", "c": 37, "v": 2.37}, {"s": "Si-SHP/CB (3.2 mAh cm⁻²)", "c": 38, "v": 2.38}, {"s": "Si-SHP/CB (3.2 mAh cm⁻²)", "c": 39, "v": 2.39},
      {"s": "Si-SHP/CB (3.2 mAh cm⁻²)", "c": 40, "v": 2.4}, {"s": "Si-SHP/CB (3.2 mAh cm⁻²)", "c": 41, "v": 2.4}, {"s": "Si-SHP/CB (3.2 mAh cm⁻²)", "c": 42, "v": 2.39},
      {"s": "Si-SHP/CB (3.2 mAh cm⁻²)", "c": 43, "v": 2.38}, {"s": "Si-SHP/CB (3.2 mAh cm⁻²)", "c": 44, "v": 2.38}, {"s": "Si-SHP/CB (3.2 mAh cm⁻²)", "c": 45, "v": 2.39},
      {"s": "Si-SHP/CB (3.2 mAh cm⁻²)", "c": 46, "v": 2.39}, {"s": "Si-SHP/CB (3.2 mAh cm⁻²)", "c": 47, "v": 2.38}, {"s": "Si-SHP/CB (3.2 mAh cm⁻²)", "c": 48, "v": 2.39},
      {"s": "Si-SHP/CB (3.2 mAh cm⁻²)", "c": 49, "v": 2.39}, {"s": "Si-SHP/CB (3.2 mAh cm⁻²)", "c": 50, "v": 2.38}, {"s": "Si-SHP/CB (3.2 mAh cm⁻²)", "c": 51, "v": 2.39},
      {"s": "Si-SHP/CB (3.2 mAh cm⁻²)", "c": 52, "v": 2.4}, {"s": "Si-SHP/CB (3.2 mAh cm⁻²)", "c": 53, "v": 2.39}, {"s": "Si-SHP/CB (3.2 mAh cm⁻²)", "c": 54, "v": 2.4},
      {"s": "Si-SHP/CB (3.2 mAh cm⁻²)", "c": 55, "v": 2.41}, {"s": "Si-SHP/CB (3.2 mAh cm⁻²)", "c": 56, "v": 2.4}, {"s": "Si-SHP/CB (3.2 mAh cm⁻²)", "c": 57, "v": 2.39},
      {"s": "Si-SHP/CB (3.2 mAh cm⁻²)", "c": 58, "v": 2.38}, {"s": "Si-SHP/CB (3.2 mAh cm⁻²)", "c": 59, "v": 2.37}, {"s": "Si-SHP/CB (3.2 mAh cm⁻²)", "c": 60, "v": 2.37},
      {"s": "Si-SHP/CB (3.2 mAh cm⁻²)", "c": 61, "v": 2.36}, {"s": "Si-SHP/CB (3.2 mAh cm⁻²)", "c": 62, "v": 2.37}, {"s": "Si-SHP/CB (3.2 mAh cm⁻²)", "c": 63, "v": 2.38},
      {"s": "Si-SHP/CB (3.2 mAh cm⁻²)", "c": 64, "v": 2.37}, {"s": "Si-SHP/CB (3.2 mAh cm⁻²)", "c": 65, "v": 2.36}, {"s": "Si-SHP/CB (3.2 mAh cm⁻²)", "c": 66, "v": 2.36},
      {"s": "Si-SHP/CB (3.2 mAh cm⁻²)", "c": 67, "v": 2.37}, {"s": "Si-SHP/CB (3.2 mAh cm⁻²)", "c": 68, "v": 2.36}, {"s": "Si-SHP/CB (3.2 mAh cm⁻²)", "c": 69, "v": 2.35},
      {"s": "Si-SHP/CB (3.2 mAh cm⁻²)", "c": 70, "v": 2.35}, {"s": "Si-SHP/CB (3.2 mAh cm⁻²)", "c": 71, "v": 2.34}, {"s": "Si-SHP/CB (3.2 mAh cm⁻²)", "c": 72, "v": 2.33},
      {"s": "Si-SHP/CB (3.2 mAh cm⁻²)", "c": 73, "v": 2.34}, {"s": "Si-SHP/CB (3.2 mAh cm⁻²)", "c": 74, "v": 2.33}, {"s": "Si-SHP/CB (3.2 mAh cm⁻²)", "c": 75, "v": 2.33},
      {"s": "Si-SHP/CB (3.2 mAh cm⁻²)", "c": 76, "v": 2.32}, {"s": "Si-SHP/CB (3.2 mAh cm⁻²)", "c": 77, "v": 2.31}, {"s": "Si-SHP/CB (3.2 mAh cm⁻²)", "c": 78, "v": 2.3},
      {"s": "Si-SHP/CB (3.2 mAh cm⁻²)", "c": 79, "v": 2.3}, {"s": "Si-SHP/CB (3.2 mAh cm⁻²)", "c": 80, "v": 2.29}, {"s": "Si-SHP/CB (3.2 mAh cm⁻²)", "c": 81, "v": 2.28},
      {"s": "Si-SHP/CB (3.2 mAh cm⁻²)", "c": 82, "v": 2.27}, {"s": "Si-SHP/CB (3.2 mAh cm⁻²)", "c": 83, "v": 2.27}, {"s": "Si-SHP/CB (3.2 mAh cm⁻²)", "c": 84, "v": 2.26},
      {"s": "Si-SHP/CB (3.2 mAh cm⁻²)", "c": 85, "v": 2.24}, {"s": "Si-SHP/CB (3.2 mAh cm⁻²)", "c": 86, "v": 2.21}, {"s": "Si-SHP/CB (3.2 mAh cm⁻²)", "c": 87, "v": 2.38},
      {"s": "Si-SHP/CB (3.2 mAh cm⁻²)", "c": 88, "v": 2.4}, {"s": "Si-SHP/CB (3.2 mAh cm⁻²)", "c": 89, "v": 2.4}, {"s": "Si-SHP/CB (3.2 mAh cm⁻²)", "c": 90, "v": 2.39},
      {"s": "Si-SHP/CB (3.2 mAh cm⁻²)", "c": 91, "v": 2.38}, {"s": "Si-SHP/CB (3.2 mAh cm⁻²)", "c": 92, "v": 2.37}, {"s": "Si-SHP/CB (3.2 mAh cm⁻²)", "c": 93, "v": 2.36},
      {"s": "Si-SHP/CB (3.2 mAh cm⁻²)", "c": 94, "v": 2.35}, {"s": "Si-SHP/CB (3.2 mAh cm⁻²)", "c": 95, "v": 2.33}, {"s": "Si-SHP/CB (3.2 mAh cm⁻²)", "c": 96, "v": 2.31},
      {"s": "Si-SHP/CB (3.2 mAh cm⁻²)", "c": 97, "v": 2.29}, {"s": "Si-SHP/CB (3.2 mAh cm⁻²)", "c": 98, "v": 2.27}, {"s": "Si-SHP/CB (3.2 mAh cm⁻²)", "c": 99, "v": 2.25},
      {"s": "Si-SHP/CB (3.2 mAh cm⁻²)", "c": 100, "v": 2.22}, {"s": "Si-SHP/CB (3.2 mAh cm⁻²)", "c": 101, "v": 2.65}, {"s": "Si-SHP/CB (3.2 mAh cm⁻²)", "c": 102, "v": 2.78},
      {"s": "Si-SHP/CB (3.2 mAh cm⁻²)", "c": 103, "v": 2.81}, {"s": "Si-SHP/CB (3.2 mAh cm⁻²)", "c": 104, "v": 2.8}, {"s": "Si-SHP/CB (3.2 mAh cm⁻²)", "c": 105, "v": 2.79},
      {"s": "Si-SHP/CB (3.2 mAh cm⁻²)", "c": 106, "v": 2.78}, {"s": "Si-SHP/CB (3.2 mAh cm⁻²)", "c": 107, "v": 2.77}, {"s": "Si-SHP/CB (3.2 mAh cm⁻²)", "c": 108, "v": 2.76},
      {"s": "Si-SHP/CB (3.2 mAh cm⁻²)", "c": 109, "v": 2.75}, {"s": "Si-SHP/CB (3.2 mAh cm⁻²)", "c": 110, "v": 2.73}, {"s": "Si-SHP/CB (3.2 mAh cm⁻²)", "c": 111, "v": 2.72},
      {"s": "Si-SHP/CB (3.2 mAh cm⁻²)", "c": 112, "v": 2.69}, {"s": "Si-SHP/CB (3.2 mAh cm⁻²)", "c": 113, "v": 2.71}, {"s": "Si-SHP/CB (3.2 mAh cm⁻²)", "c": 114, "v": 2.72},
      {"s": "Si-SHP/CB (3.2 mAh cm⁻²)", "c": 115, "v": 2.68}
    ]
  }
}
